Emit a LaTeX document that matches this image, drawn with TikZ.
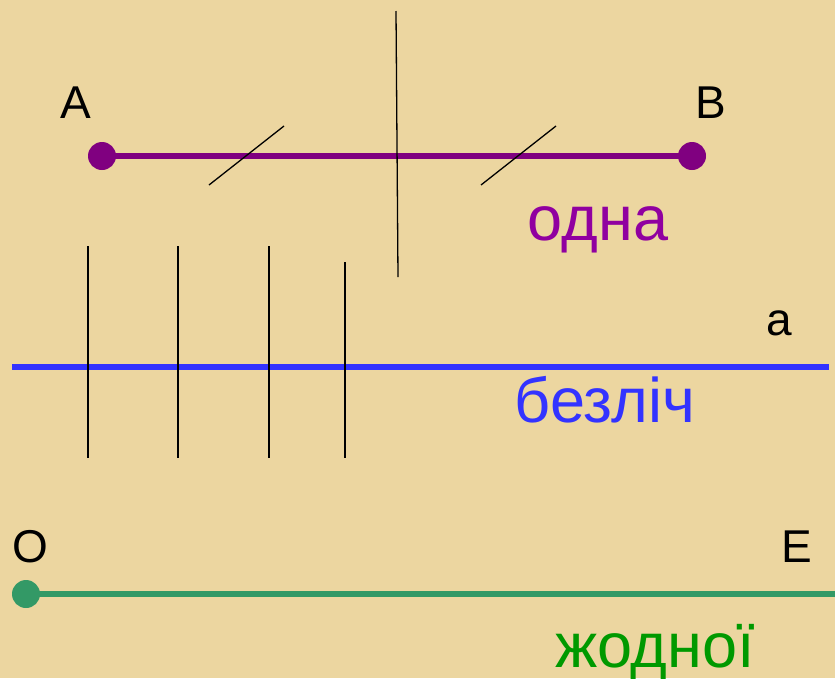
\documentclass[tikz,border=0pt]{standalone}
\usepackage{fontspec}
\setmainfont{Liberation Sans}
\usetikzlibrary{positioning}
\definecolor{paper}{RGB}{236,214,160}
\definecolor{segcol}{RGB}{128,0,128}
\definecolor{odnacol}{RGB}{144,0,160}
\definecolor{linecol}{RGB}{51,51,255}
\definecolor{raycol}{RGB}{51,153,102}
\definecolor{zhodcol}{RGB}{0,153,0}

\begin{document}
\begin{tikzpicture}[x=1pt,y=-1pt,pt/.style={circle,inner sep=0pt,minimum size=28pt},lbl/.style={anchor=base,inner sep=0pt,font=\fontsize{46}{50}\selectfont},word/.style={anchor=base,inner sep=0pt,font=\fontsize{63}{68}\selectfont},thin/.style={line width=1.3pt,black}]
\fill[paper] (0,0) rectangle (835,678);
\useasboundingbox (0,0) rectangle (835,678);
\node[pt,fill=segcol] (A) at (102,156) {};
\node[pt,fill=segcol] (B) at (692,156) {};
\draw[segcol,line width=6pt] (A.center)--(B.center);
\node[lbl] (labA) at (76,118) {A};
\node[lbl] (labB) at (711,118) {B};
\coordinate (t1a) at (209,185);\coordinate (t1b) at (284,126);
\coordinate (t2a) at (481,185);\coordinate (t2b) at (556,126);
\draw[thin] (t1a)--(t1b);\draw[thin] (t2a)--(t2b);
\coordinate (v0a) at (396,11);\coordinate (v0b) at (398,277);
\draw[thin] (v0a)--(v0b);
\node[word,text=odnacol] (odna) at (598,240) {одна};
\coordinate (la) at (12,367);\coordinate (lb) at (829,367);
\draw[linecol,line width=6pt] (la)--(lb);
\node[lbl] (laba) at (779,335) {a};
\foreach \x/\t in {88/246,178/246,269/246,345/262}
  \draw[thin] (\x,\t)--(\x,458);
\node[word,text=linecol] (bezlich) at (605,422) {безліч};
\node[pt,fill=raycol] (O) at (26,594) {};
\coordinate (E) at (835,594);
\draw[raycol,line width=6pt] (O.center)--(E);
\node[lbl] (labO) at (30,562) {O};
\node[lbl] (labE) at (797,562) {E};
\node[word,text=zhodcol] (zhodnoi) at (655,667) {жодної};
\end{tikzpicture}
\end{document}
